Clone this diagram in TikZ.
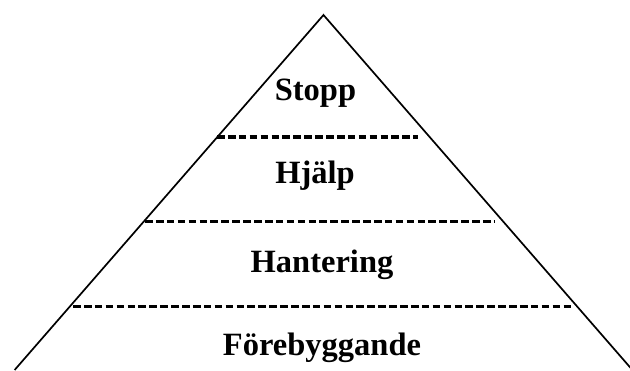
\documentclass[tikz,border=0pt]{standalone}
\usepackage{fontspec}
\setmainfont{Liberation Serif}
\begin{document}
\begin{tikzpicture}[x=1pt,y=1pt]
    \tikzstyle{every node}+=[inner sep=0pt]
    \tikzstyle{level}=[font=\bfseries\fontsize{32.5}{32.5}\selectfont, anchor=base]
    \tikzstyle{divider}=[black, line width=3.4pt, dash pattern=on 7.6pt off 3.3pt]
    \useasboundingbox (0,0) rectangle (630,-370);
    \clip (0,0) rectangle (630,-370);
    \draw [black, line width=1.7pt] (14.6,-370) -- (323.5,-15) -- (632.4,-370);
    \draw [divider] (217,-137) -- (418,-137);
    \draw [divider] (145,-221.5) -- (495,-221.5);
    \draw [divider] (73,-306.5) -- (572,-306.5);
    \node [level] (stopp) at (315.5,-100) {Stopp};
    \node [level] (hjalp) at (315,-183) {Hjälp};
    \node [level] (hantering) at (322,-272) {Hantering};
    \node [level] (forebyggande) at (322,-355) {Förebyggande};
\end{tikzpicture}
\end{document}
